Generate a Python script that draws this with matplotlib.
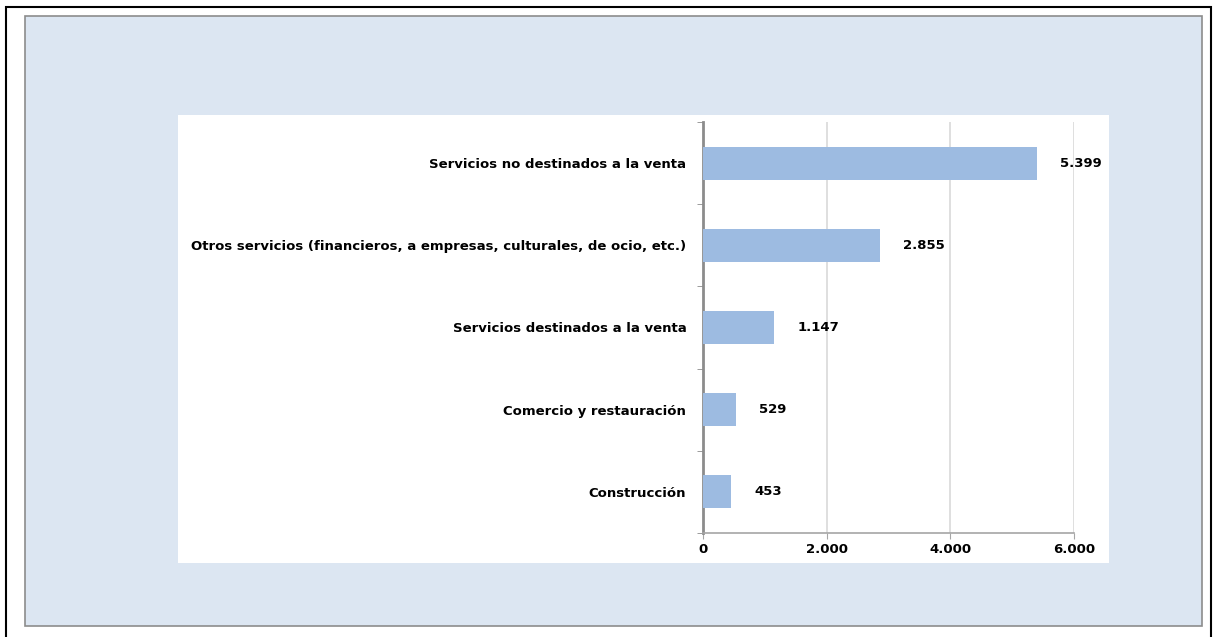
import matplotlib.pyplot as plt
from matplotlib.patches import Rectangle
from matplotlib.ticker import FuncFormatter

plt.rcParams['font.family'] = ['DejaVu Sans']

categories = [
    'Construcción',
    'Comercio y restauración',
    'Servicios destinados a la venta',
    'Otros servicios (financieros, a empresas, culturales, de ocio, etc.)',
    'Servicios no destinados a la venta',
]
values = [453, 529, 1147, 2855, 5399]
xticks = [0, 2000, 4000, 6000]


def miles(v, pos=None):
    return f'{int(v):,}'.replace(',', '.')


W, H = 1221, 637
fig = plt.figure(figsize=(W / 100, H / 100), dpi=100)

# outer frame, blue panel and white plot area (pixel boxes -> figure fractions)
def box(x0, y0, x1, y1, **kw):
    r = Rectangle((x0 / W, 1 - y1 / H), (x1 - x0) / W, (y1 - y0) / H,
                  transform=fig.transFigure, zorder=-10, **kw)
    fig.patches.append(r)

box(6, 7, 1211, 660, facecolor='white', edgecolor='black', linewidth=1.5)
box(25, 16, 1202, 626, facecolor='#DCE6F2', edgecolor='#8C8C8C', linewidth=1.2)
box(178, 115, 1109, 563, facecolor='white', edgecolor='none')

ax = fig.add_axes([703 / W, 1 - 533 / H, (1074 - 703) / W, (533 - 122) / H])
ax.set_facecolor('none')

FS = 9.5
pos = range(len(categories))
ax.barh(pos, values, height=0.4, color='#9DBBE1', zorder=3)
for y, v in zip(pos, values):
    ax.annotate(miles(v), (v, y), xytext=(17, 0), textcoords='offset points',
                va='center', ha='left', fontsize=FS, fontweight='bold')

ax.set_xlim(0, 6000)
ax.set_ylim(-0.5, len(categories) - 0.5)
ax.set_xticks(xticks)
ax.xaxis.set_major_formatter(FuncFormatter(miles))
ax.set_yticks(list(pos))
ax.set_yticklabels(categories)
ax.set_yticks([i - 0.5 for i in range(len(categories) + 1)], minor=True)

ax.grid(axis='x', color='#D9D9D9', linewidth=1.2, zorder=0)
for s in ['top', 'right']:
    ax.spines[s].set_visible(False)
ax.spines['left'].set_color('#8C8C8C')
ax.spines['left'].set_linewidth(2)
ax.spines['bottom'].set_color('#A6A6A6')
ax.spines['bottom'].set_linewidth(1.2)

ax.tick_params(axis='y', which='major', length=0, pad=12)
ax.tick_params(axis='y', which='minor', length=4, color='#8C8C8C')
ax.tick_params(axis='x', length=4, color='#A6A6A6', pad=3)
for lab in ax.get_xticklabels() + ax.get_yticklabels():
    lab.set_fontweight('bold')
    lab.set_fontsize(FS)

fig.savefig('out.png', dpi=100)
